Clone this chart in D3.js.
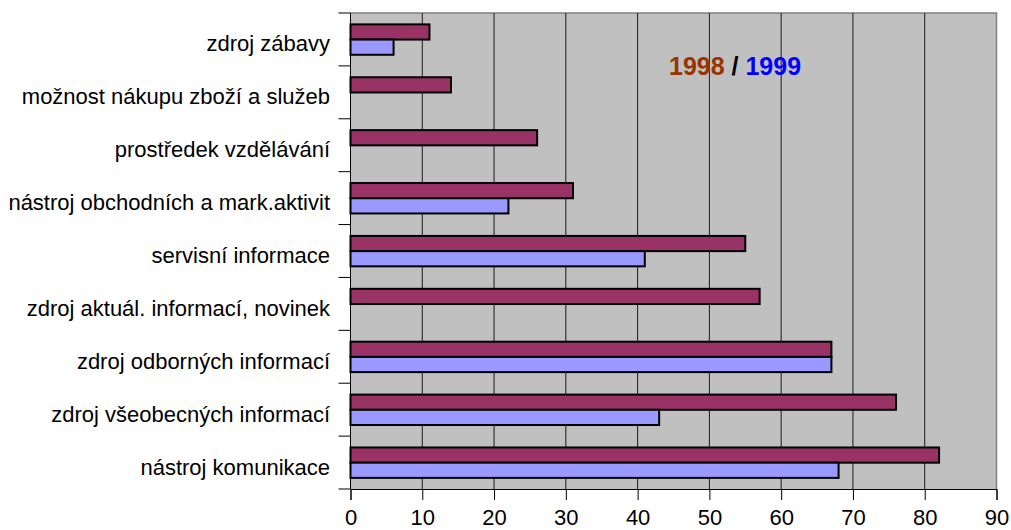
<!DOCTYPE html>
<html>
<head>
<meta charset="utf-8">
<script src="https://cdn.jsdelivr.net/npm/d3@7"></script>
<style>
  body { margin: 0; background: #fff; }
  text { font-family: "Liberation Sans", Arial, sans-serif; }
</style>
</head>
<body>
<div id="chart"></div>
<script>
// categories top to bottom
var categories = [
    "zdroj zábavy",
    "možnost nákupu zboží a služeb",
    "prostředek vzdělávání",
    "nástroj obchodních a mark.aktivit",
    "servisní informace",
    "zdroj aktuál. informací, novinek",
    "zdroj odborných informací",
    "zdroj všeobecných informací",
    "nástroj komunikace"
];
var series = ["1998", "1999"];
var values1998 = [11, 14, 26, 31, 55, 57, 67, 76, 82];
var values1999 = [6, 0, 0, 22, 41, 0, 67, 43, 68];
var xTicks = [0, 10, 20, 30, 40, 50, 60, 70, 80, 90];

var color1998 = "#993366";
var color1999 = "#9999ff";

var width = 1011, height = 530;
var margin = {left: 350.5, right: 14.5, top: 13, bottom: 41};

var svg = d3.select("#chart").append("svg")
    .attr("width", width)
    .attr("height", height);

var xScale = d3.scaleLinear()
    .domain([0, 90])
    .range([margin.left, width - margin.right]);

var yScale = d3.scaleBand()
    .domain(categories)
    .range([margin.top, height - margin.bottom])
    .padding(0);

var bw = yScale.bandwidth();
var subScale = d3.scaleBand()
    .domain(series)
    .range([bw * 0.215, bw * 0.79]);

// plot background
svg.append("rect")
    .attr("x", xScale(0))
    .attr("y", yScale.range()[0])
    .attr("width", xScale(90) - xScale(0))
    .attr("height", yScale.range()[1] - yScale.range()[0])
    .style("fill", "#c0c0c0");

// top + right border
svg.append("path")
    .attr("d", "M" + xScale(0) + "," + yScale.range()[0] + "H" + xScale(90) + "V" + yScale.range()[1])
    .style("fill", "none")
    .style("stroke", "#808080")
    .style("stroke-width", 1.5);

// vertical grid
svg.selectAll(".grid")
    .data(xTicks.filter(d => d > 0 && d < 90))
    .enter().append("line")
    .attr("class", "grid")
    .attr("x1", d => xScale(d))
    .attr("x2", d => xScale(d))
    .attr("y1", yScale.range()[0])
    .attr("y2", yScale.range()[1])
    .style("stroke", "#1a1a1a")
    .style("stroke-width", 1);

var data = categories.map(function(c, i){
    return {cat: c, vals: [{s: "1998", v: values1998[i]}, {s: "1999", v: values1999[i]}]};
});

var groups = svg.selectAll(".group")
    .data(data)
    .enter().append("g")
    .attr("class", "group")
    .attr("transform", d => "translate(0," + yScale(d.cat) + ")");

groups.selectAll("rect")
    .data(d => d.vals.filter(e => e.v > 0))
    .enter().append("rect")
    .attr("x", xScale(0))
    .attr("y", d => subScale(d.s))
    .attr("width", d => xScale(d.v) - xScale(0))
    .attr("height", subScale.bandwidth())
    .style("fill", d => d.s == "1998" ? color1998 : color1999)
    .style("stroke", "#000")
    .style("stroke-width", 2);

// x axis
var xAxis = svg.append("g")
    .attr("transform", "translate(0," + yScale.range()[1] + ")")
    .call(d3.axisBottom(xScale).tickValues(xTicks).tickSize(11).tickPadding(9));
xAxis.select(".domain").style("stroke", "#000");
xAxis.selectAll(".tick line").style("stroke", "#000");
xAxis.selectAll("text")
    .style("font-family", "'Liberation Sans', Arial, sans-serif")
    .style("font-size", "22px")
    .style("fill", "#000");

// y axis: ticks at category boundaries
var yAxisG = svg.append("g");
yAxisG.append("line")
    .attr("x1", xScale(0)).attr("x2", xScale(0))
    .attr("y1", yScale.range()[0]).attr("y2", yScale.range()[1])
    .style("stroke", "#000");
var bounds = categories.map(c => yScale(c)).concat([yScale.range()[1]]);
yAxisG.selectAll(".ytick")
    .data(bounds)
    .enter().append("line")
    .attr("x1", xScale(0) - 12).attr("x2", xScale(0))
    .attr("y1", d => d).attr("y2", d => d)
    .style("stroke", "#000");

yAxisG.selectAll(".ylabel")
    .data(categories)
    .enter().append("text")
    .attr("x", 330)
    .attr("y", d => yScale(d) + bw / 2 + 12)
    .attr("text-anchor", "end")
    .style("font-size", "22px")
    .style("fill", "#000")
    .text(d => d);

// year legend
var leg = svg.append("text")
    .attr("x", 669)
    .attr("y", 75)
    .style("font-size", "25px")
    .style("font-weight", "bold");
leg.append("tspan").style("fill", "#993300").text("1998");
leg.append("tspan").style("fill", "#000").text(" / ");
leg.append("tspan").style("fill", "#0000ff").text("1999");
</script>
</body>
</html>
